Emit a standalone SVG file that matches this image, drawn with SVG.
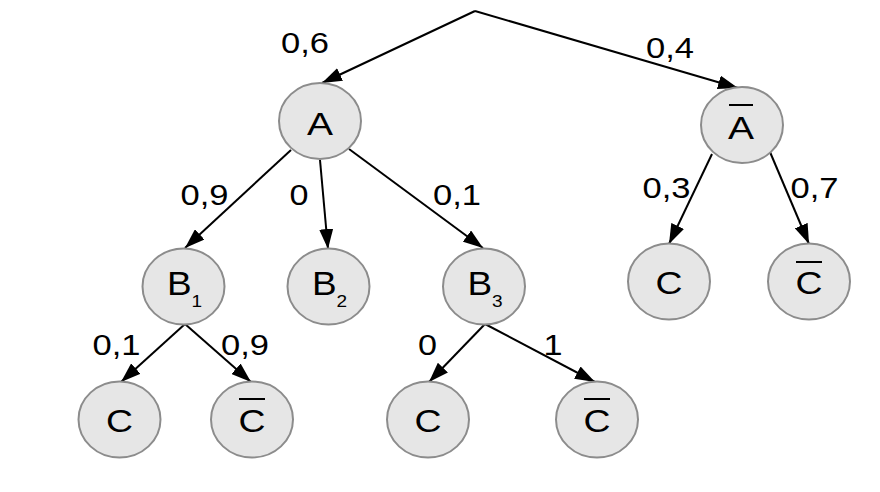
<svg xmlns="http://www.w3.org/2000/svg" width="880" height="492" viewBox="0 0 880 492">
<defs>
<marker id="arr" markerUnits="userSpaceOnUse" markerWidth="20" markerHeight="14" refX="20" refY="7" orient="auto">
<path d="M0,0 L20,7 L0,14 z" fill="#000"/>
</marker>
<style>
.edge{stroke:#000;stroke-width:2;fill:none;marker-end:url(#arr)}
.node ellipse{fill:#e6e6e6;stroke:#8c8c8c;stroke-width:2}
.bar{stroke:#000;stroke-width:2}
text{font-family:"Liberation Sans",Arial,sans-serif;fill:#000}
.lbl{font-size:29px;text-anchor:middle}
.nt{font-size:32px;text-anchor:middle}
.bt{font-size:33px;text-anchor:middle}
.sub{font-size:17px}
</style>
</defs>
<rect width="880" height="492" fill="#fff"/>
<g id="connectors">
<line class="edge" x1="475" y1="11" x2="322" y2="83"/>
<line class="edge" x1="475" y1="11" x2="738" y2="88"/>
<line class="edge" x1="291" y1="150" x2="185" y2="248"/>
<line class="edge" x1="320" y1="160" x2="328" y2="249"/>
<line class="edge" x1="349" y1="149" x2="483" y2="248"/>
<line class="edge" x1="185" y1="324" x2="121" y2="382"/>
<line class="edge" x1="185" y1="324" x2="251" y2="382"/>
<line class="edge" x1="485" y1="324" x2="429" y2="382"/>
<line class="edge" x1="485" y1="324" x2="595" y2="382"/>
<line class="edge" x1="712" y1="154" x2="669" y2="244"/>
<line class="edge" x1="770" y1="152" x2="809" y2="244"/>
</g>
<g id="labels">
<text class="lbl" x="305" y="53" textLength="48" lengthAdjust="spacingAndGlyphs">0,6</text>
<text class="lbl" x="670" y="58" textLength="48" lengthAdjust="spacingAndGlyphs">0,4</text>
<text class="lbl" x="204.5" y="205" textLength="48" lengthAdjust="spacingAndGlyphs">0,9</text>
<text class="lbl" x="299" y="205" textLength="19" lengthAdjust="spacingAndGlyphs">0</text>
<text class="lbl" x="457" y="205" textLength="48" lengthAdjust="spacingAndGlyphs">0,1</text>
<text class="lbl" x="666.5" y="198" textLength="48" lengthAdjust="spacingAndGlyphs">0,3</text>
<text class="lbl" x="814.5" y="198" textLength="48" lengthAdjust="spacingAndGlyphs">0,7</text>
<text class="lbl" x="116.5" y="355" textLength="48" lengthAdjust="spacingAndGlyphs">0,1</text>
<text class="lbl" x="245" y="355" textLength="48" lengthAdjust="spacingAndGlyphs">0,9</text>
<text class="lbl" x="427.5" y="355" textLength="19" lengthAdjust="spacingAndGlyphs">0</text>
<text class="lbl" x="553" y="355" textLength="19" lengthAdjust="spacingAndGlyphs">1</text>
</g>
<g id="nodeA" class="node">
<ellipse cx="320" cy="121" rx="41" ry="38"/>
<text class="nt" x="320" y="134.5" textLength="26" lengthAdjust="spacingAndGlyphs">A</text>
</g>
<g id="nodeAbar" class="node">
<ellipse cx="742" cy="125" rx="41" ry="38"/>
<text class="nt" x="741" y="139" textLength="26" lengthAdjust="spacingAndGlyphs">A</text>
<line class="bar" x1="729" y1="105" x2="753" y2="105"/>
</g>
<g id="nodeB1" class="node">
<ellipse cx="183.5" cy="286.5" rx="41" ry="38"/>
<text class="bt" transform="translate(184.5 294.5) scale(1.12 1)">B<tspan class="sub" dy="12">1</tspan></text>
</g>
<g id="nodeB2" class="node">
<ellipse cx="328.5" cy="286.5" rx="41" ry="38"/>
<text class="bt" transform="translate(329.5 294.5) scale(1.12 1)">B<tspan class="sub" dy="12">2</tspan></text>
</g>
<g id="nodeB3" class="node">
<ellipse cx="484" cy="286.5" rx="41" ry="38"/>
<text class="bt" transform="translate(485 294.5) scale(1.12 1)">B<tspan class="sub" dy="12">3</tspan></text>
</g>
<g id="nodeC_A" class="node">
<ellipse cx="669" cy="281.5" rx="41" ry="38"/>
<text class="nt" x="669" y="293.5" textLength="27" lengthAdjust="spacingAndGlyphs">C</text>
</g>
<g id="nodeCbar_A" class="node">
<ellipse cx="809" cy="281.5" rx="41" ry="38"/>
<text class="nt" x="809" y="293.5" textLength="27" lengthAdjust="spacingAndGlyphs">C</text>
<line class="bar" x1="796" y1="262" x2="822" y2="262"/>
</g>
<g id="nodeC_B1" class="node">
<ellipse cx="119.5" cy="419.5" rx="41" ry="38"/>
<text class="nt" x="119.5" y="431.5" textLength="27" lengthAdjust="spacingAndGlyphs">C</text>
</g>
<g id="nodeCbar_B1" class="node">
<ellipse cx="252" cy="419.5" rx="41" ry="38"/>
<text class="nt" x="252" y="431.5" textLength="27" lengthAdjust="spacingAndGlyphs">C</text>
<line class="bar" x1="239" y1="399" x2="265" y2="399"/>
</g>
<g id="nodeC_B3" class="node">
<ellipse cx="428" cy="419.5" rx="41" ry="38"/>
<text class="nt" x="428" y="431.5" textLength="27" lengthAdjust="spacingAndGlyphs">C</text>
</g>
<g id="nodeCbar_B3" class="node">
<ellipse cx="597" cy="419.5" rx="41" ry="38"/>
<text class="nt" x="597" y="431.5" textLength="27" lengthAdjust="spacingAndGlyphs">C</text>
<line class="bar" x1="584" y1="399" x2="610" y2="399"/>
</g>
</svg>
